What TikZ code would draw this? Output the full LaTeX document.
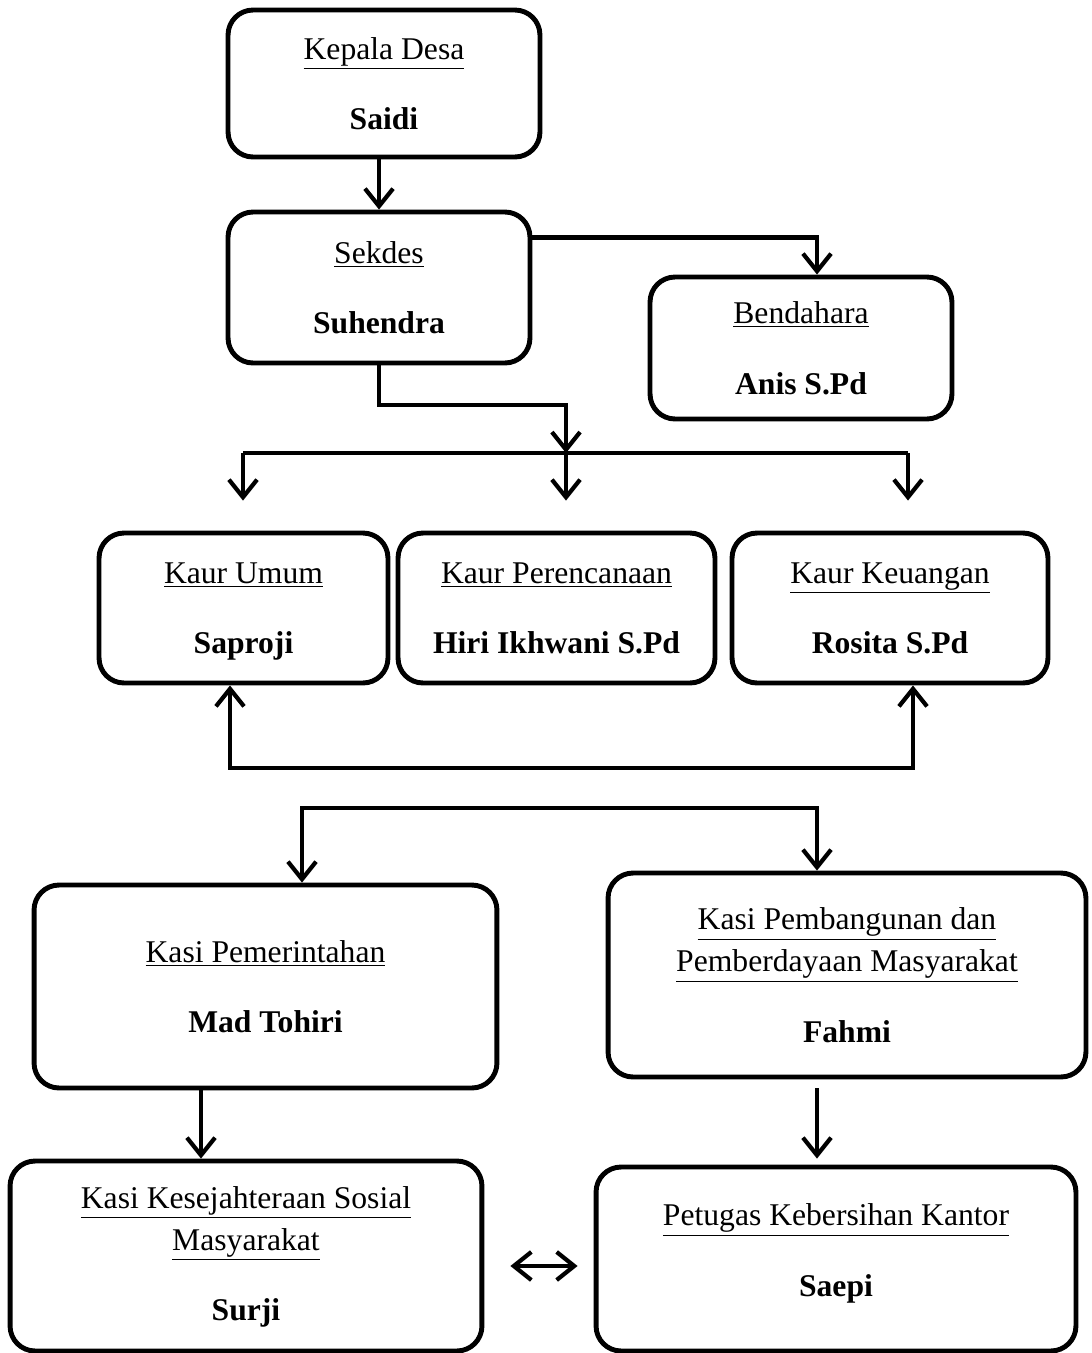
\documentclass[tikz,border=0pt]{standalone}
\usepackage{fontspec}
\setmainfont{Liberation Serif}
\usetikzlibrary{arrows.meta}

\begin{document}
\begin{tikzpicture}[x=0.02cm,y=-0.02cm,
    box/.style={draw,line width=2.8pt,rounded corners=0.5cm,align=center,
      text depth=0pt,font=\fontsize{18}{24}\selectfont},
    wire/.style={line width=2.4pt},
    link/.style={wire,-{Straight Barb[length=10pt,width=16pt]}},
    dlink/.style={wire,{Straight Barb[length=10pt,width=16pt]}-{Straight Barb[length=10pt,width=16pt]}}]

      \useasboundingbox (0,0) rectangle (1092,1353);

      % boxes
      \node[box,minimum width=6.24cm,minimum height=2.94cm] (kades) at (384,83.5)
        {\underline{Kepala Desa}\\[16pt]\textbf{Saidi}};
      \node[box,minimum width=6.04cm,minimum height=3.02cm] (sekdes) at (379,287.5)
        {\underline{Sekdes}\\[16pt]\textbf{Suhendra}};
      \node[box,minimum width=6.04cm,minimum height=2.84cm] (bendahara) at (801,348)
        {\underline{Bendahara}\\[16pt]\textbf{Anis S.Pd}};

      \node[box,minimum width=5.78cm,minimum height=3cm] (kaurumum) at (243.5,608)
        {\underline{Kaur Umum}\\[16pt]\textbf{Saproji}};
      \node[box,minimum width=6.34cm,minimum height=3cm] (kaurrenc) at (556.5,608)
        {\underline{Kaur Perencanaan}\\[16pt]\textbf{Hiri Ikhwani S.Pd}};
      \node[box,minimum width=6.32cm,minimum height=3cm] (kaurkeu) at (890,608)
        {\underline{Kaur Keuangan}\\[16pt]\textbf{Rosita S.Pd}};

      \node[box,minimum width=9.26cm,minimum height=4.06cm] (kasipem) at (265.5,986.5)
        {\underline{Kasi Pemerintahan}\\[16pt]\textbf{Mad Tohiri}};
      \node[box,minimum width=9.56cm,minimum height=4.08cm] (kasibang) at (847,975)
        {\underline{Kasi Pembangunan dan}\\\underline{Pemberdayaan Masyarakat}\\[16pt]\textbf{Fahmi}};

      \node[box,minimum width=9.44cm,minimum height=3.8cm,text depth=0.1cm] (kasikesra) at (246,1256)
        {\underline{Kasi Kesejahteraan Sosial}\\\underline{Masyarakat}\\[16pt]\textbf{Surji}};
      \node[box,minimum width=9.6cm,minimum height=3.68cm,text depth=0.36cm] (petugas) at (836,1259)
        {\underline{Petugas Kebersihan Kantor}\\[16pt]\textbf{Saepi}};

      % junctions
      \coordinate (knee) at (566,405);
      \coordinate (hub) at (566,453);
      \coordinate (busl) at (243,453);
      \coordinate (busr) at (908,453);
      \coordinate (lowl) at (230,768);
      \coordinate (lowr) at (913,768);
      \coordinate (splitl) at (302,808);
      \coordinate (splitr) at (817,808);
      \coordinate (pemdown) at (201,1090);
      \coordinate (bangdown) at (817,1088);

      % connectors
      \draw[link] (sekdes.north |- kades.south) -- (sekdes.north);
      \draw[link] ([yshift=-0.56cm]sekdes.north east) -| ([xshift=0.32cm]bendahara.north);
      \draw[link] (sekdes.south) |- (knee) -- (hub);

      \draw[wire] (busl) -- (busr);
      \foreach \c/\n in {busl/kaurumum,hub/kaurrenc,busr/kaurkeu}
        \draw[link] (\c) -- ([yshift=0.6cm]\n.north -| \c);

      \draw[dlink] (kaurumum.south -| lowl) -- (lowl) -- (lowr) -- (kaurkeu.south -| lowr);
      \draw[dlink] (kasipem.north -| splitl) -- (splitl) -- (splitr) -- (kasibang.north -| splitr);

      \draw[link] (pemdown) -- (pemdown |- kasikesra.north);
      \draw[link] (bangdown) -- ([yshift=0.12cm]bangdown |- petugas.north);
      \draw[dlink] ([shift={(0.52cm,-0.2cm)}]kasikesra.east)
        -- ([shift={(-0.32cm,-0.2cm)}]kasikesra.east -| petugas.west);

    \end{tikzpicture}
\end{document}
